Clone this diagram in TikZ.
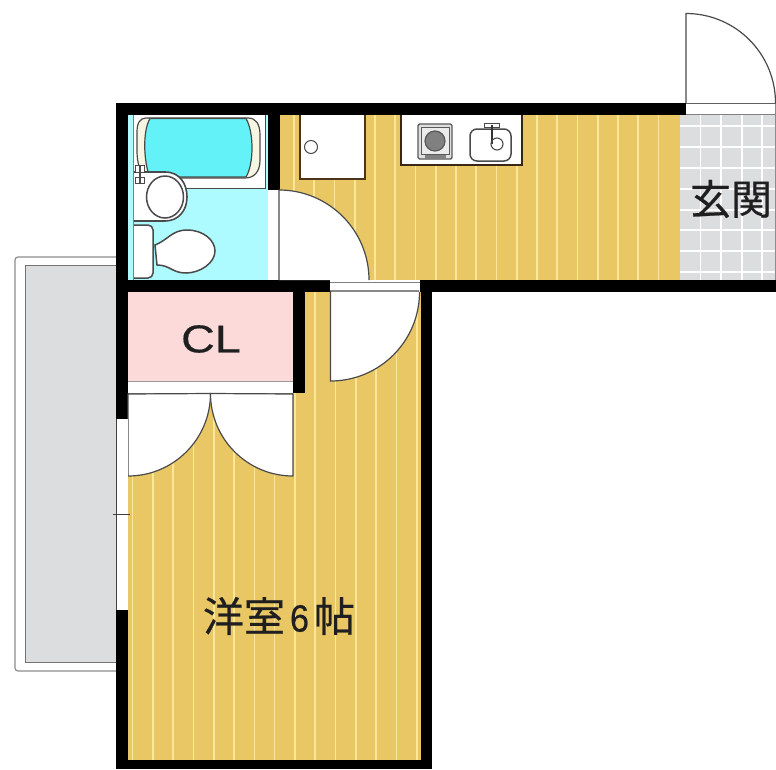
\documentclass[tikz,border=0pt]{standalone}
\usepackage{fontspec}
\setsansfont{Liberation Sans}
\newfontfamily\cjk[FakeBold=0.6]{Noto Sans CJK JP}
\newfontfamily\clfont[FakeStretch=1.2,FakeBold=0.4]{Liberation Sans}
\newfontfamily\numfont[FakeStretch=0.9,FakeBold=0.5]{Liberation Sans}
\definecolor{floorc}{HTML}{E8C764}
\definecolor{stripec}{HTML}{FBE798}
\definecolor{greyfl}{HTML}{DCDDDE}
\definecolor{bathc}{HTML}{AEFBFF}
\definecolor{tubc}{HTML}{63F2F8}
\definecolor{pinkc}{HTML}{FDDADA}
\definecolor{linec}{HTML}{4A4A4A}
\definecolor{creamc}{HTML}{F6F6E2}
\tikzset{
  wall/.style={fill=black,draw=none},
  doorleaf/.style={fill=white,draw=linec,line width=1.2pt},
  stripe/.style={draw=stripec,line width=1.6pt},
  tile/.style={draw=white,line width=1.4pt},
  fixture/.style={fill=white,draw=linec,line width=1.5pt},
  label/.style={inner sep=0pt,text=black!88},
}
\begin{document}
\begin{tikzpicture}[x=1pt,y=-1pt]
\useasboundingbox (0,0) rectangle (776,769);
\fill[white] (0,0) rectangle (776,769);
% balcony
\draw[draw=black!45,line width=1.2pt,fill=white,rounded corners=3pt] (116,257) -- (15,257) -- (15,671) -- (116,671);
\fill[greyfl] (25,265) rectangle (116,662);
\draw[draw=black!55,line width=1pt] (116,265) -- (25,265) -- (25,662) -- (116,662);
% floors
\fill[floorc] (280,115) rectangle (680,280);
\fill[floorc] (128,292) rectangle (421,760);
\foreach \k in {0,...,18} {
  \pgfmathsetmacro{\xx}{294+20.25*\k}
  \draw[stripe] (\xx,115) -- (\xx,280);
}
\foreach \k in {0,...,14} {
  \pgfmathsetmacro{\xx}{132.5+20.3*\k}
  \draw[stripe] (\xx,292) -- (\xx,760);
}
% genkan
\fill[greyfl] (680,115) rectangle (776,280);
\foreach \xx in {700.5,721,742,762} \draw[tile] (\xx,115) -- (\xx,280);
\foreach \yy in {126,147,168,189,210,230,251,272} \draw[tile] (680,\yy) -- (776,\yy);
\draw[draw=black!45,line width=1pt] (775.5,103) -- (775.5,280);
% bathroom
\fill[bathc] (128,115) rectangle (268,280);
\draw[draw=black!50,line width=1pt] (133,115) -- (133,280);
\fill[white] (134,115) rectangle (265,188);
\draw[draw=linec,line width=1pt] (134,188) -- (265,188) -- (265,115);
\fill[white] (134,188) rectangle (170,221);
% tub
\draw[fill=creamc,draw=linec,line width=1.2pt] (146,118) -- (248,118) .. controls (256,118) and (260,124) .. (260,135) -- (260,160) .. controls (260,172) and (254,178) .. (245,178) -- (146,178) .. controls (140,170) and (137,165) .. (137,150) -- (137,132) .. controls (137,123) and (140,118) .. (146,118) -- cycle;
\draw[fill=tubc,draw=linec,line width=1.2pt] (150,118.5) -- (246,118.5) .. controls (254,132) and (254,164) .. (246,177) -- (150,177) .. controls (144,164) and (142,132) .. (150,118.5) -- cycle;
% basin
\draw[fill=white,draw=linec,line width=1.6pt] (134,172) -- (165,172) .. controls (180,172) and (187,184) .. (187,197) .. controls (187,211) and (178,221) .. (165,221) -- (134,221);
\draw[fixture] (165,197) ellipse [x radius=18.5,y radius=21];
% taps
\draw[fill=white,draw=linec,line width=1pt] (135,165) rectangle (144,172);
\draw[fill=white,draw=linec,line width=1pt] (135,177) rectangle (144,183);
\draw[draw=linec,line width=1.5pt] (140,165) -- (140,183);
% toilet
\draw[fixture,rounded corners=5pt] (134,225) -- (153,225) -- (153,278) -- (134,278);
\draw[fixture] (155,245) .. controls (168,240) and (172,230) .. (187,230) .. controls (203,230) and (215,240) .. (215,251) .. controls (215,263) and (200,273) .. (186,273) .. controls (172,273) and (170,265) .. (157,265) -- cycle;
% fridge and kitchen
\draw[fill=white,draw=black!60!brown,line width=1.3pt] (300,115) -- (300,179) -- (365,179) -- (365,115);
\draw[fill=white,draw=linec,line width=1pt] (311,147) circle [radius=6.5];
\draw[fill=white,draw=black!70!brown,line width=1.3pt] (401,115) -- (401,165) -- (522,165) -- (522,115);
\draw[fill=black!12,draw=black!65,line width=1.4pt,rounded corners=1.5pt] (418,124) rectangle (452,159);
\draw[fill=black!8,draw=black!65,line width=1pt] (421,127) rectangle (449,154);
\draw[fill=black!50,draw=black!65,line width=1.2pt] (435,141) circle [radius=10];
\draw[fill=black!50,draw=black!50] (425,155) rectangle (445,158);
\draw[fixture,rounded corners=7pt] (470,129) rectangle (511,161);
\draw[fill=white,draw=linec,line width=1pt] (484,123) rectangle (499,127);
\draw[draw=black!80,line width=1.6pt] (492,125) -- (492,144);
\draw[draw=linec,line width=1.1pt] (497,144) circle [radius=6];
% walls
\fill[wall] (116,103) rectangle (686,115);
\fill[wall] (116,103) rectangle (128,419);
\fill[wall] (116,610) rectangle (128,769);
\fill[wall] (268,103) rectangle (280,190);
\fill[wall] (116,280) rectangle (330,292);
\fill[wall] (420,280) rectangle (776,292);
\fill[wall] (421,280) rectangle (432,769);
\fill[wall] (116,760) rectangle (432,769);
% closet
\fill[pinkc] (128,292) rectangle (293,381);
\draw[draw=black!40,line width=1pt] (128,381) -- (293,381);
\fill[white] (128,382) rectangle (293,393);
\draw[draw=black!55,line width=1pt] (128,393) -- (293,393);
\fill[wall] (293,292) rectangle (305,393);
% bathroom door
\fill[white] (268,190) rectangle (279,280);
\draw[doorleaf] (279,280) -- (279,190) arc[start angle=-90,end angle=0,radius=90];
% room door
\fill[white] (330,282) rectangle (420,291);
\draw[draw=black!50,line width=1pt] (330,282) -- (420,282);
\draw[doorleaf] (419,291) -- (330.5,291) -- (330.5,381) arc[start angle=90,end angle=0,radius=89];
% closet doors
\draw[doorleaf] (128,394) -- (128,476) arc[start angle=90,end angle=0,radius=82.5] -- cycle;
\draw[doorleaf] (293,394) -- (293,476) arc[start angle=90,end angle=180,radius=82.5] -- cycle;
% window
\fill[white] (117,419) rectangle (128,610);
\draw[draw=black!75,line width=1.2pt] (116.5,419) -- (116.5,610);
\draw[draw=black!75,line width=.8pt] (113,514) -- (130,514);
% entrance door
\draw[draw=linec,line width=1pt] (686,103) -- (776,103);
\fill[white] (686,104) rectangle (775,114);
\draw[draw=black!50,line width=1pt] (686,114) -- (776,114);
\draw[doorleaf] (686,103) -- (686,13.5) arc[start angle=-90,end angle=0,radius=89.5];
% labels
\node[label,font=\clfont\fontsize{39}{39}\selectfont] (cl) at (211,339) {CL};
\node[label,font=\cjk\fontsize{41}{41}\selectfont] (genkan) at (731,199) {玄関};
\node[label,font=\cjk\fontsize{41}{41}\selectfont] (room) at (279,616) {洋室\hspace{5pt}{\numfont\fontsize{38}{38}\selectfont 6}\hspace{5pt}帖};
\end{tikzpicture}
\end{document}
